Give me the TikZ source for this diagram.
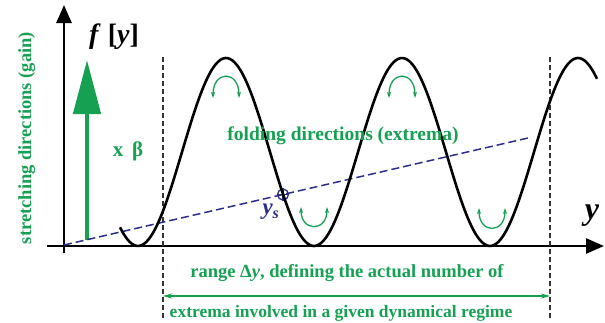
\documentclass[tikz,border=0pt]{standalone}
\usepackage{fontspec}
\setmainfont{Liberation Serif}
\usepackage{tikz}
\usetikzlibrary{arrows.meta,positioning}

\definecolor{gaingreen}{RGB}{22,160,82}
\definecolor{lineblue}{RGB}{45,45,140}

\newcommand{\fsz}[1]{\fontsize{#1}{#1}\selectfont}

\begin{document}
\begin{tikzpicture}[
    x=1pt, y=-1pt,
    axis/.style={line width=2.6pt, -{Triangle[length=18pt,width=15pt]}},
    curve/.style={line width=2.6pt, black, line join=round},
    border/.style={dashed, line width=1.1pt, black!80, dash pattern=on 5pt off 3pt},
    fold/.style={gaingreen, line width=1.3pt, {Stealth[length=6pt,width=4pt]}-{Stealth[length=6pt,width=4pt]}},
    greentext/.style={text=gaingreen, font=\bfseries\fsz{18.5}, inner sep=0pt}
]
\useasboundingbox (0,0) rectangle (605,322);

% Axes
\coordinate (ybot) at (64,253);
\coordinate (ytop) at (64,5);
\coordinate (xleft) at (47,246);
\coordinate (xright) at (604,246);
\draw[axis] (ybot) -- (ytop);
\draw[axis] (xleft) -- (xright);
\node[anchor=base west, inner sep=0pt, font=\fsz{28}] (flabel) at (89,43) {\textbf{\textit{f}} \textbf{[\textit{y}]}};
\node[inner sep=0pt, font=\bfseries\itshape\fsz{32}] (ylabel) at (592,216) {y};

% Range borders
\coordinate (la) at (163,57);
\coordinate (lb) at (163,320);
\coordinate (ra) at (550,57);
\coordinate (rb) at (550,320);
\draw[border] (la) -- (lb);
\draw[border] (ra) -- (rb);

% Stretching
\coordinate (g0) at (87,240);
\coordinate (g1) at (87,60);
\draw[gaingreen, line width=4.5pt, -{Triangle[length=54pt,width=27pt]}] (g0) -- (g1);
\node[greentext, rotate=90, anchor=base] (stretch) at (31,138) {stretching directions (gain)};
\node[greentext, anchor=base, font=\bfseries\fsz{21}] (beta) at (128,156) {x \,β};

% Blue line and y_s
\coordinate (b0) at (64,245);
\coordinate (b1) at (528,138);
\draw[lineblue, line width=1.5pt, dash pattern=on 8pt off 4pt] (b0) -- (b1);
\node[circle, draw=lineblue, line width=1.3pt, minimum size=11pt, inner sep=0pt] (ys) at (283,194.5) {};
\draw[lineblue, line width=1.2pt] (ys.north) -- (ys.south) (ys.west) -- (ys.east);
\node[text=lineblue, inner sep=0pt, font=\bfseries\itshape\fsz{23}] (yslabel) at (271,212) {y\textsubscript{s}};

% Curve
\draw[curve] plot[domain=120:597, samples=200, smooth] (\x, {152+94*cos(2.04545*(\x-138))});

% Folding directions
\draw[fold] (213,98) .. controls (213,70) and (239,70) .. (239,98);
\draw[fold] (389,98) .. controls (389,70) and (415,70) .. (415,98);
\draw[fold] (301,207) .. controls (301,232) and (327,232) .. (327,207);
\draw[fold] (479,208) .. controls (479,234) and (505,234) .. (505,208);
\node[greentext, anchor=base, font=\bfseries\fsz{19.5}] (foldtext) at (343,140) {folding directions (extrema)};

% Range
\draw[gaingreen, line width=1.1pt, {Stealth[length=9pt,width=5pt]}-{Stealth[length=9pt,width=5pt]}] (163,296) -- (550,296);
\node[greentext, anchor=base] (range1) at (347,277) {range Δ\textit{y}, defining the actual number of};
\node[greentext, anchor=base, font=\bfseries\fsz{17.5}] (range2) at (341,317) {extrema involved in a given dynamical regime};

\end{tikzpicture}
\end{document}
